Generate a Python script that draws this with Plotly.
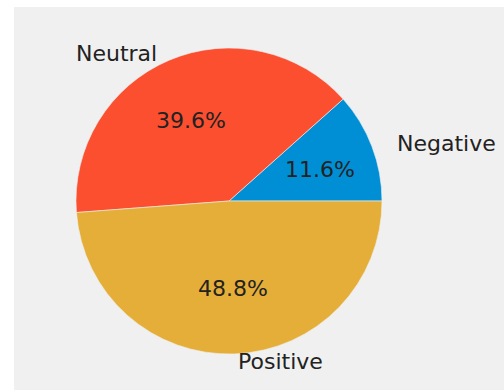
import math
import plotly.graph_objects as go

labels = ["Negative", "Neutral", "Positive"]
values = [11.6, 39.6, 48.8]
colors = ["#008fd5", "#fc4f30", "#e5ae38"]

W, H = 504, 390
CX, CY, R = 229, 201, 153          # pie centre / radius in pixels
RX, RY = 161.5, 146                 # text placement radii (reference is slightly stretched)
L, T = CX - R, CY - R
B = H - (CY + R)
RM = W - (CX + R)


def to_paper(px, py):
    return (px - L) / (2 * R), ((CY + R) - py) / (2 * R)


total = sum(values)
# first slice starts at 3 o'clock and runs counter-clockwise
rotation = 90 - 360 * values[0] / total

fig = go.Figure(go.Pie(
    labels=labels, values=values, sort=False,
    direction="counterclockwise", rotation=rotation,
    marker=dict(colors=colors, line=dict(color="#f0f0f0", width=0.6)),
    textinfo="none", hoverinfo="label+percent", showlegend=False,
    domain=dict(x=[0, 1], y=[0, 1]),
))

annotations = []
start = 0.0
font = dict(family="DejaVu Sans", size=22, color="#222222")
for lab, v in zip(labels, values):
    frac = v / total
    mid = 2 * math.pi * (start + frac / 2)
    start += frac
    c, s = math.cos(mid), math.sin(mid)
    x, y = to_paper(CX + 1.1 * RX * c, CY - 1.1 * RY * s)
    annotations.append(dict(x=x, y=y, xref="paper", yref="paper", text=lab,
                            showarrow=False, xanchor="left" if c > 0 else "right",
                            yanchor="middle", font=font))
    x, y = to_paper(CX + 0.6 * RX * c, CY - 0.6 * RY * s)
    annotations.append(dict(x=x, y=y, xref="paper", yref="paper",
                            text=f"{100 * frac:.1f}%", showarrow=False,
                            xanchor="center", yanchor="middle", font=font))

lx0, _ = to_paper(0, 0)
lx1, _ = to_paper(14, 0)
_, ty0 = to_paper(0, 7)
_, ty1 = to_paper(0, 0)
_, by0 = to_paper(0, H)
rx1, _ = to_paper(W, 0)

fig.update_layout(
    width=W, height=H, autosize=False,
    margin=dict(l=L, r=RM, t=T, b=B, pad=0),
    paper_bgcolor="#f0f0f0", plot_bgcolor="#f0f0f0",
    annotations=annotations,
    shapes=[
        dict(type="rect", xref="paper", yref="paper", x0=lx0 - 0.05, x1=lx1,
             y0=by0 - 0.05, y1=ty1 + 0.05, fillcolor="white", line=dict(width=0), layer="above"),
        dict(type="rect", xref="paper", yref="paper", x0=lx0 - 0.05, x1=rx1 + 0.05,
             y0=ty0, y1=ty1 + 0.05, fillcolor="white", line=dict(width=0), layer="above"),
    ],
)

fig.write_html(
    "out.html",
    config={"displayModeBar": False},
    post_script="document.body.style.margin='0';document.body.style.overflow='hidden';",
)
